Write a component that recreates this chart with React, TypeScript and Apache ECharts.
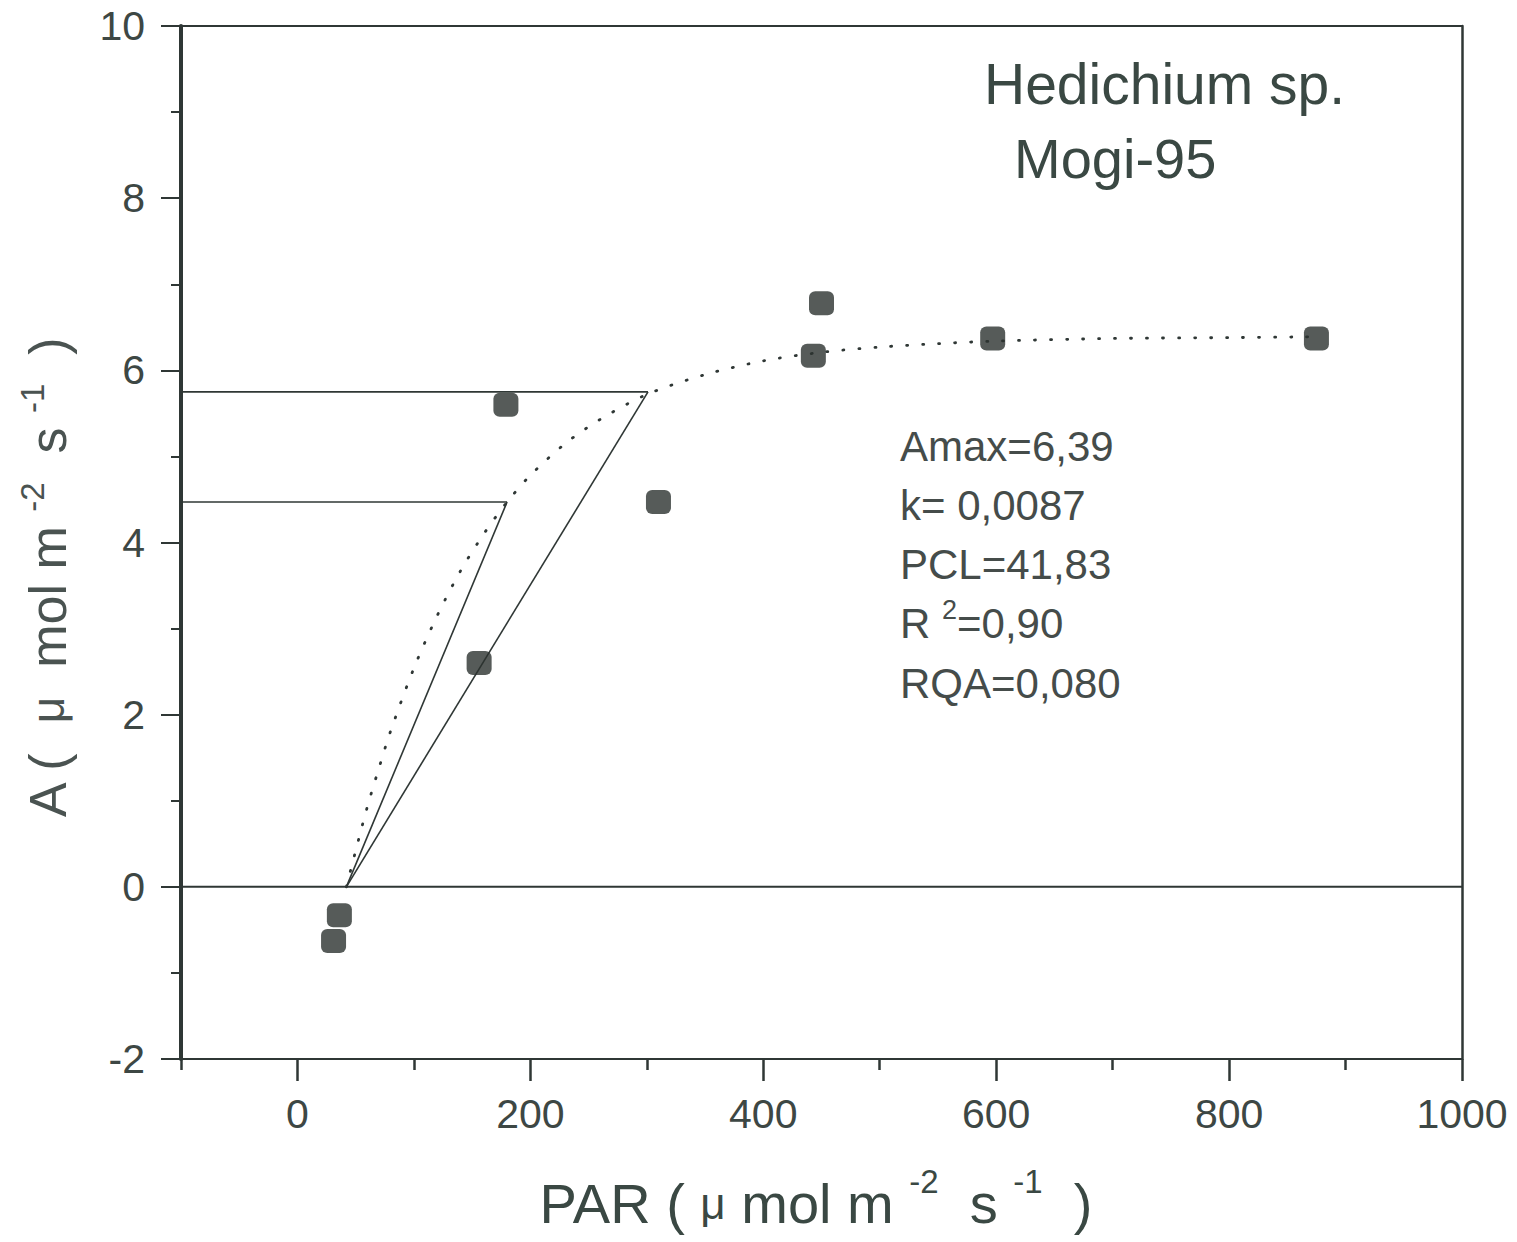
import React, { useEffect, useRef } from "react";
import * as echarts from "echarts";

// Observed data (PAR, A)
const obsPAR = [31, 36, 156, 179, 310, 443, 450, 597, 875];
const obsA = [-0.63, -0.33, 2.6, 5.6, 4.47, 6.17, 6.78, 6.37, 6.37];

// Fitted curve
const fitPAR = [42, 50, 60, 70, 80, 100, 120, 140, 160, 180, 200, 230, 260, 300, 350, 400, 450, 500, 550, 600, 700, 800, 875];
const fitA = [0, 0.42, 0.93, 1.38, 1.81, 2.54, 3.15, 3.67, 4.1, 4.47, 4.78, 5.15, 5.43, 5.72, 5.95, 6.11, 6.21, 6.27, 6.31, 6.34, 6.37, 6.38, 6.39];

// Construction lines
const lineA_PAR = [42, 301];
const lineA_A = [0, 5.75];
const lineB_PAR = [42, 180];
const lineB_A = [0, 4.47];
const hLineHigh = { par: [-100, 301], a: 5.75 };
const hLineLow = { par: [-100, 180], a: 4.47 };

const xMajor = [0, 200, 400, 600, 800, 1000];
const xMinor = [-100, 100, 300, 500, 700, 900];

const statLines = ["Amax=6,39", "k= 0,0087", "PCL=41,83", "R {sup|2}=0,90", "RQA=0,080"];

const INK = "#2f3735";
const TXT = "#3d4744";
const FONT = "'Liberation Sans', Arial, sans-serif";

export default function App() {
  const ref = useRef<HTMLDivElement>(null);
  useEffect(() => {
    if (!ref.current) return;
    const chart = echarts.init(ref.current, undefined, { renderer: "svg" });
    const pairs = (xs: number[], ys: number[]) => xs.map((x, i) => [x, ys[i]]);
    const thin = { color: INK, width: 1.6 };
    const option: any = {
      animation: false,
      backgroundColor: "#ffffff",
      textStyle: { fontFamily: FONT },
      grid: { left: 181, top: 26, width: 1281, height: 1033 },
      xAxis: [
        {
          type: "value", min: -100, max: 1000, interval: 100, position: "bottom",
          axisLine: { show: true, onZero: false, lineStyle: { color: INK, width: 2 } },
          axisTick: { show: true, customValues: xMajor, length: 22, lineStyle: { color: INK, width: 2.5 } },
          axisLabel: {
            show: true, customValues: xMajor, fontSize: 41, color: TXT, margin: 34, fontFamily: FONT,
            formatter: (v: number) => String(v),
          },
          splitLine: { show: false },
        },
        {
          type: "value", min: -100, max: 1000, interval: 100, position: "bottom",
          axisLine: { show: false, onZero: false },
          axisTick: { show: true, customValues: xMinor, length: 11, lineStyle: { color: INK, width: 2.5 } },
          axisLabel: { show: false },
          splitLine: { show: false },
        },
        {
          type: "value", min: -100, max: 1000, position: "top",
          axisLine: { show: true, onZero: false, lineStyle: { color: INK, width: 2 } },
          axisTick: { show: false }, axisLabel: { show: false }, splitLine: { show: false },
        },
      ],
      yAxis: [
        {
          type: "value", min: -2, max: 10, interval: 2, position: "left",
          axisLine: { show: true, onZero: false, lineStyle: { color: INK, width: 4 } },
          axisTick: { show: true, length: 20, lineStyle: { color: INK, width: 2 } },
          minorTick: { show: true, splitNumber: 2, length: 10, lineStyle: { color: INK, width: 2 } },
          axisLabel: { fontSize: 41, color: TXT, margin: 36, fontFamily: FONT },
          splitLine: { show: false },
        },
        {
          type: "value", min: -2, max: 10, position: "right",
          axisLine: { show: true, onZero: false, lineStyle: { color: INK, width: 2.5 } },
          axisTick: { show: false }, axisLabel: { show: false }, splitLine: { show: false },
        },
      ],
      series: [
        { type: "line", data: [[-100, 0], [1000, 0]], symbol: "none", lineStyle: { color: INK, width: 2 }, z: 2 },
        { type: "line", data: hLineHigh.par.map((p) => [p, hLineHigh.a]), symbol: "none", lineStyle: thin, z: 2 },
        { type: "line", data: hLineLow.par.map((p) => [p, hLineLow.a]), symbol: "none", lineStyle: thin, z: 2 },
        { type: "line", data: pairs(lineA_PAR, lineA_A), symbol: "none", lineStyle: thin, z: 2 },
        { type: "line", data: pairs(lineB_PAR, lineB_A), symbol: "none", lineStyle: thin, z: 2 },
        {
          type: "line", data: pairs(fitPAR, fitA), symbol: "none", smooth: 0.3,
          lineStyle: { color: INK, width: 2.8, type: [1, 15], cap: "round" }, z: 2,
        },
        {
          type: "scatter", data: pairs(obsPAR, obsA), symbol: "roundRect", symbolSize: [25, 24],
          itemStyle: { color: "#2c3230" }, z: 5,
        },
      ],
      graphic: [
        {
          type: "text", left: 984, top: 55,
          style: { text: "Hedichium sp.", fontSize: 57, fill: "#3a4843", fontFamily: FONT },
        },
        {
          type: "text", left: 1014, top: 130,
          style: { text: "Mogi-95", fontSize: 56, fill: "#3a4843", fontFamily: FONT },
        },
        ...statLines.map((t, i) => ({
          type: "text", x: 900, y: 446 + i * 59.3,
          style: {
            text: t, fontSize: 42, lineHeight: 54, fill: "#454c4a", fontFamily: FONT, verticalAlign: "middle",
            rich: { sup: { fontSize: 27, fill: "#454c4a", fontFamily: FONT, verticalAlign: "top" } },
          },
        })),
        {
          type: "text", x: 816, y: 1203,
          style: {
            text: "PAR ( {mu|μ} mol m {sup|-2}  s {sup|-1}  )", fontSize: 56, lineHeight: 76, fill: "#3a4843", fontFamily: FONT,
            align: "center", verticalAlign: "middle",
            rich: {
              mu: { fontSize: 44, lineHeight: 76, fill: "#3a4843", fontFamily: FONT },
              sup: { fontSize: 33, fill: "#3a4843", fontFamily: FONT, verticalAlign: "top" },
            },
          },
        },
        {
          type: "text", x: 48, y: 578, rotation: Math.PI / 2,
          style: {
            text: "A (  {mu|μ}  mol m {sup|-2}  s {sup|-1}  )", fontSize: 52, lineHeight: 64, fill: "#4a5351", fontFamily: FONT,
            align: "center", verticalAlign: "middle",
            rich: {
              mu: { fontSize: 46, lineHeight: 64, fill: "#4a5351", fontFamily: FONT },
              sup: { fontSize: 33, fill: "#4a5351", fontFamily: FONT, verticalAlign: "top" },
            },
          },
        },
      ],
    };
    chart.setOption(option);
    return () => chart.dispose();
  }, []);
  return <div ref={ref} style={{ position: "fixed", left: 0, top: 0, width: 1517, height: 1242 }} />;
}
